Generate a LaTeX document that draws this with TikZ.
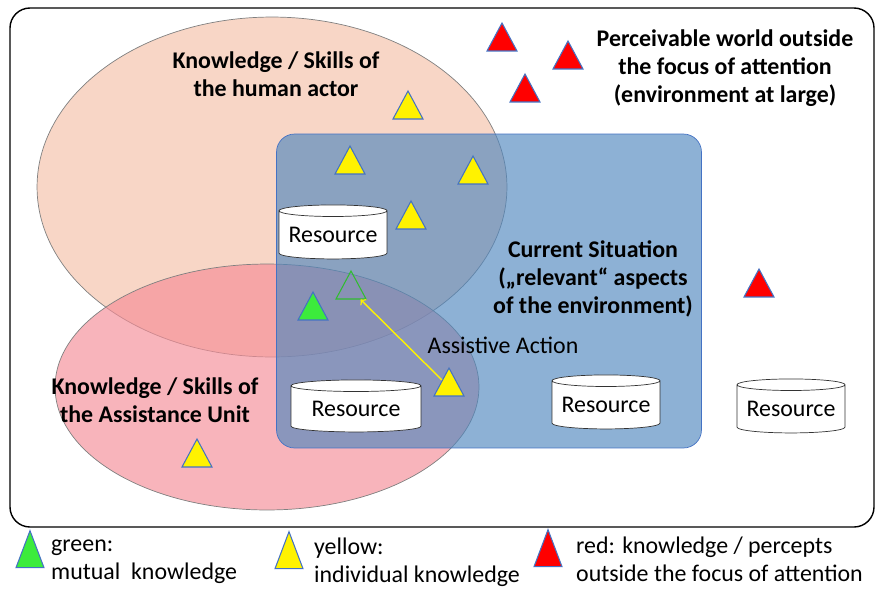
\documentclass[tikz,border=0pt]{standalone}
\usepackage{fontspec}
\setmainfont{Carlito}
\usetikzlibrary{shapes.geometric}

\definecolor{peach}{RGB}{248,214,198}
\definecolor{unitpink}{RGB}{245,140,150}
\definecolor{sitblue}{RGB}{80,135,190}
\definecolor{edgeblue}{RGB}{68,114,196}
\definecolor{mutgreen}{RGB}{60,235,60}

\newcommand{\diafont}{\fontsize{13.6}{16}\selectfont}

\tikzset{
  tri/.style={isosceles triangle, isosceles triangle stretches, shape border rotate=90,
    draw=edgeblue, line width=0.6pt, minimum width=0.6cm, minimum height=0.56cm, inner sep=0pt},
  legtri/.style={tri, minimum width=0.56cm, minimum height=0.74cm},
  res/.style={cylinder, shape border rotate=90, draw=black!80, fill=white, aspect=0.13,
    minimum width=2.16cm, minimum height=1.08cm, inner sep=0pt},
  lbl/.style={align=center, font=\diafont\bfseries}
}

\begin{document}
\begin{tikzpicture}[x=0.02cm, y=-0.02cm, font=\diafont]
\useasboundingbox (0,0) rectangle (875,589);

% Frame
\draw[rounded corners=0.4cm, line width=0.8pt] (10,8) rectangle (874,527);

% Knowledge areas
\node[ellipse, draw=black!50, fill=peach, minimum width=9.4cm, minimum height=6.8cm] (HE) at (272,187) {};
\node[ellipse, draw=black!50, fill=unitpink, fill opacity=0.65, minimum width=8.48cm, minimum height=4.92cm] (AE) at (267,387) {};

% Current situation
\node[draw=edgeblue, fill=sitblue, fill opacity=0.65, rounded corners=0.36cm, minimum width=8.5cm, minimum height=6.28cm] (CS) at (489,291) {};

% Labels
\node[lbl] (HL) at (276,74) {Knowledge / Skills of\\the human actor};
\node[lbl] (PW) at (725,68) {Perceivable world outside\\the focus of attention\\(environment at large)};
\node[lbl] (SL) at (593,279) {Current Situation\\(„relevant“ aspects\\of the environment)};
\node[lbl] (AL) at (155,400) {Knowledge / Skills of\\the Assistance Unit};
\node (AA) at (503,345) {Assistive Action};

% Resources
\node[res] (R1) at (333,235) {Resource};
\node[res, minimum width=2.6cm, minimum height=1.04cm] (R2) at (356,409) {Resource};
\node[res] (R3) at (606,405) {Resource};
\node[res] (R4) at (791,409) {Resource};

% Yellow: individual knowledge
\node[tri, fill=yellow] (Y1) at (408,110) {};
\node[tri, fill=yellow] (Y2) at (350,165) {};
\node[tri, fill=yellow] (Y3) at (473,175) {};
\node[tri, fill=yellow] (Y4) at (411,220) {};
\node[tri, fill=yellow] (Y5) at (449,387) {};
\node[tri, fill=yellow] (Y6) at (197,458) {};

% Green: mutual knowledge
\node[tri, fill=mutgreen] (G1) at (313,311) {};
\node[tri, draw=mutgreen!80!black] (G0) at (351,290) {};

% Red: outside the focus
\node[tri, fill=red] (Rd1) at (502,42) {};
\node[tri, fill=red] (Rd2) at (568,60) {};
\node[tri, fill=red] (Rd3) at (525,93) {};
\node[tri, fill=red] (Rd4) at (759,288) {};

% Assistive action
\draw[->, yellow, line width=0.8pt] (Y5) -- (G0);

% Legend
\node[legtri, fill=mutgreen] (LG) at (30,558) {};
\node[legtri, fill=yellow] (LY) at (289,559) {};
\node[legtri, fill=red] (LR) at (548,557) {};
\node[anchor=west, align=left] (TG) at (45,562) {green:\\mutual\ \ knowledge};
\node[anchor=west, align=left] (TY) at (308,562) {yellow:\\individual knowledge};
\node[anchor=west, align=left] (TR) at (570,559) {red: knowledge / percepts\\outside the focus of attention};

\end{tikzpicture}
\end{document}
